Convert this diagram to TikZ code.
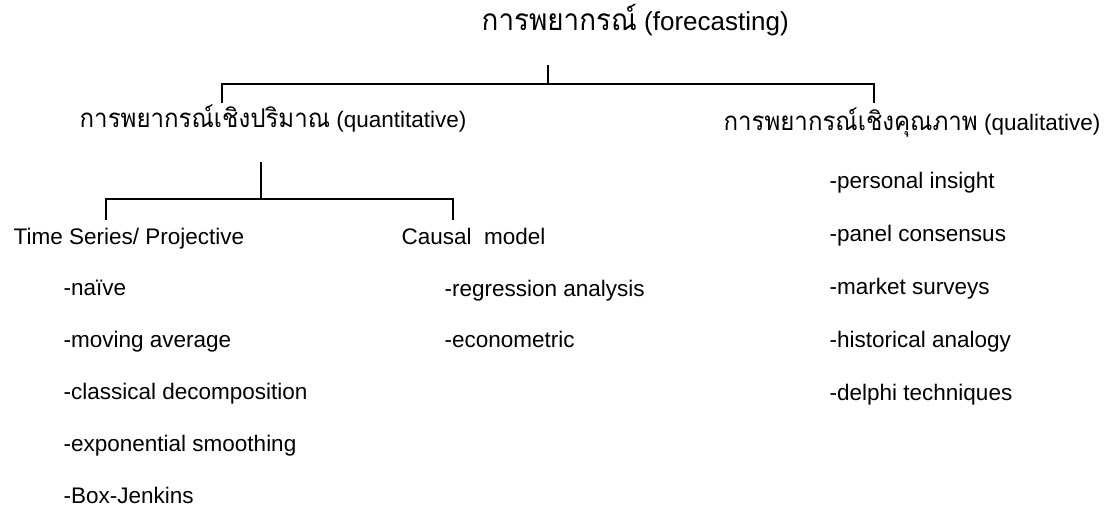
\documentclass[tikz,border=0pt]{standalone}
\usepackage{fontspec}
\setmainfont{Liberation Sans}
\newfontfamily\thaifont[Script=Thai,Scale=1.15,FakeStretch=0.93]{Loma}
\usetikzlibrary{positioning}

\begin{document}
\begin{tikzpicture}[x=0.025cm, y=-0.025cm,
    every node/.style={font=\fontsize{16}{19}\selectfont, inner sep=1pt},
    branch/.style={line width=1.1pt},
    item/.style={anchor=base west}]
    \useasboundingbox (0,0) rectangle (1108,507);

    % forecasting
    \node[item, font=\fontsize{18.5}{22}\selectfont] (fc) at (480,30) {{\thaifont การพยากรณ์} (forecasting)};
    \coordinate (fctick) at (548,65);
    \coordinate (tl) at (222,84);
    \coordinate (tr) at (874,84);

    % quantitative / qualitative
    \node[item] (quant) at (78,127) {{\thaifont การพยากรณ์เชิงปริมาณ} (quantitative)};
    \node[anchor=base east] (qual) at (1102,130) {{\thaifont การพยากรณ์เชิงคุณภาพ} (qualitative)};
    \draw[branch] (fctick) -- (fctick |- tl);
    \draw[branch] (tl) ++(0,19) -- (tl) -- (tr) -- ++(0,19);

    % time series / causal
    \node[item] (ts) at (12,244) {Time Series/ Projective};
    \node[item] (cm) at (400,244) {Causal~~model};
    \coordinate (qtick) at (261,162);
    \coordinate (bl) at (106,199);
    \coordinate (br) at (453,199);
    \draw[branch] (qtick) -- (qtick |- bl);
    \draw[branch] (bl) ++(0,21) -- (bl) -- (br) -- ++(0,21);

    % methods
    \foreach \txt [count=\i] in {-naïve, -moving average, -classical decomposition,
        -exponential smoothing, -Box-Jenkins}
        \node[item] (ts\i) at (62,243+52*\i) {\txt};
    \foreach \txt [count=\i] in {-regression analysis, -econometric}
        \node[item] (cm\i) at (443,245+51*\i) {\txt};
    \foreach \txt [count=\i] in {-personal insight, -panel consensus, -market surveys,
        -historical analogy, -delphi techniques}
        \node[item] (ql\i) at (828,135+53*\i) {\txt};
\end{tikzpicture}
\end{document}
